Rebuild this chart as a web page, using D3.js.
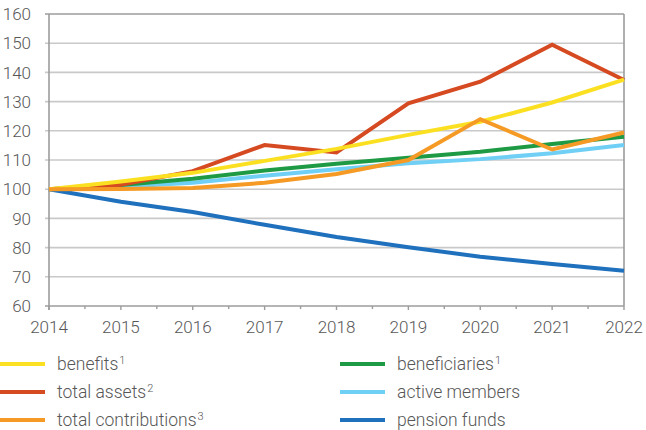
<!DOCTYPE html>
<html>
<head>
<meta charset="utf-8">
<script src="https://cdn.jsdelivr.net/npm/d3@7"></script>
<style>
  body { margin: 0; background: #fff; }
  text { font-family: Roboto, "Noto Sans", sans-serif; fill: #575757; }
</style>
</head>
<body>
<div id="chart"></div>
<script>
var w = 646;
var h = 430;

var years = [2014, 2015, 2016, 2017, 2018, 2019, 2020, 2021, 2022];
var yTicks = [60, 70, 80, 90, 100, 110, 120, 130, 140, 150, 160];

var pensionFunds = [100, 95.7, 92.2, 87.8, 83.6, 80.1, 76.9, 74.4, 72.1];
var activeMembers = [100, 100.8, 102.2, 104.6, 106.8, 108.9, 110.3, 112.3, 115.1];
var beneficiaries = [100, 101.4, 103.6, 106.4, 108.7, 110.8, 112.8, 115.5, 118];
var totalAssets = [100, 101.5, 106.2, 115.1, 112.6, 129.4, 136.8, 149.5, 137.4];
var benefits = [100, 102.6, 105.6, 109.7, 113.8, 118.6, 123.1, 129.7, 137.5];
var totalContributions = [100, 100.1, 100.4, 102.2, 105.2, 110, 124, 113.6, 119.4];

// drawing order: bottom first
var series = [
  { name: "pension funds", sup: "", color: "#1f70bd", values: pensionFunds },
  { name: "active members", sup: "", color: "#6fcff5", values: activeMembers },
  { name: "beneficiaries", sup: "1", color: "#1f9a44", values: beneficiaries },
  { name: "total assets", sup: "2", color: "#d64a22", values: totalAssets },
  { name: "benefits", sup: "1", color: "#fbe022", values: benefits },
  { name: "total contributions", sup: "3", color: "#f59a25", values: totalContributions }
];

// legend layout: column-wise as in the original
var legendOrder = [
  ["benefits", "total assets", "total contributions"],
  ["beneficiaries", "active members", "pension funds"]
];

var margin = { left: 49, right: 22, top: 14 };
var plotBottom = 306;

var x = d3.scaleLinear()
  .domain([2014, 2022])
  .range([margin.left, w - margin.right]);

var y = d3.scaleLinear()
  .domain([60, 160])
  .range([plotBottom, margin.top]);

var svg = d3.select("#chart")
  .append("svg")
  .attr("width", w)
  .attr("height", h);

// horizontal gridlines
svg.append("g")
  .selectAll("line")
  .data(yTicks)
  .enter()
  .append("line")
  .attr("x1", margin.left - 4)
  .attr("x2", x(2022))
  .attr("y1", function(d) { return y(d); })
  .attr("y2", function(d) { return y(d); })
  .attr("stroke", function(d) { return d === 60 || d === 160 ? "#9c9c9c" : "#c9c9c9"; })
  .attr("stroke-width", 1.6);

// right border
svg.append("line")
  .attr("x1", x(2022)).attr("x2", x(2022))
  .attr("y1", y(160)).attr("y2", y(60))
  .attr("stroke", "#9c9c9c")
  .attr("stroke-width", 1.6);

// left axis line
svg.append("line")
  .attr("x1", x(2014)).attr("x2", x(2014))
  .attr("y1", y(160)).attr("y2", y(60) + 4)
  .attr("stroke", "#9c9c9c")
  .attr("stroke-width", 1.6);

// x ticks (years + half-year minor)
var minor = d3.range(2014.5, 2022, 1);
svg.append("g")
  .selectAll("line")
  .data(years.concat(minor))
  .enter()
  .append("line")
  .attr("x1", function(d) { return x(d); })
  .attr("x2", function(d) { return x(d); })
  .attr("y1", plotBottom)
  .attr("y2", function(d) { return Number.isInteger(d) ? plotBottom + 4 : plotBottom + 3; })
  .attr("stroke", "#9c9c9c")
  .attr("stroke-width", 1.4);

// y labels
svg.append("g")
  .selectAll("text")
  .data(yTicks)
  .enter()
  .append("text")
  .attr("x", 31)
  .attr("y", function(d) { return y(d); })
  .attr("dy", "0.36em")
  .attr("text-anchor", "end")
  .attr("font-size", 17)
  .attr("font-weight", 300)
  .text(function(d) { return d; });

// x labels
svg.append("g")
  .selectAll("text")
  .data(years)
  .enter()
  .append("text")
  .attr("x", function(d) { return x(d); })
  .attr("y", 327)
  .attr("dy", "0.36em")
  .attr("text-anchor", "middle")
  .attr("font-size", 17)
  .attr("font-weight", 300)
  .text(function(d) { return d; });

var line = d3.line()
  .x(function(d, i) { return x(years[i]); })
  .y(function(d) { return y(d); });

svg.append("g")
  .selectAll("path")
  .data(series)
  .enter()
  .append("path")
  .attr("fill", "none")
  .attr("stroke", function(d) { return d.color; })
  .attr("stroke-width", 4)
  .attr("stroke-linejoin", "miter")
  .attr("d", function(d) { return line(d.values); });

// legend
var colX = [0, 340];
var rowY = [364, 392, 420];
legendOrder.forEach(function(col, ci) {
  col.forEach(function(name, ri) {
    var s = series.find(function(d) { return d.name === name; });
    var g = svg.append("g")
      .attr("transform", "translate(" + colX[ci] + "," + rowY[ri] + ")");
    g.append("line")
      .attr("x1", 0).attr("x2", 45)
      .attr("y1", 0).attr("y2", 0)
      .attr("stroke", s.color)
      .attr("stroke-width", 4);
    var t = g.append("text")
      .attr("x", 57)
      .attr("dy", "0.36em")
      .attr("font-size", 17.5)
      .attr("font-weight", 300)
      .text(s.name);
    if (s.sup) {
      t.append("tspan")
        .attr("font-size", 11)
        .attr("dx", 1)
        .attr("dy", "-0.6em")
        .text(s.sup);
    }
  });
});
</script>
</body>
</html>
